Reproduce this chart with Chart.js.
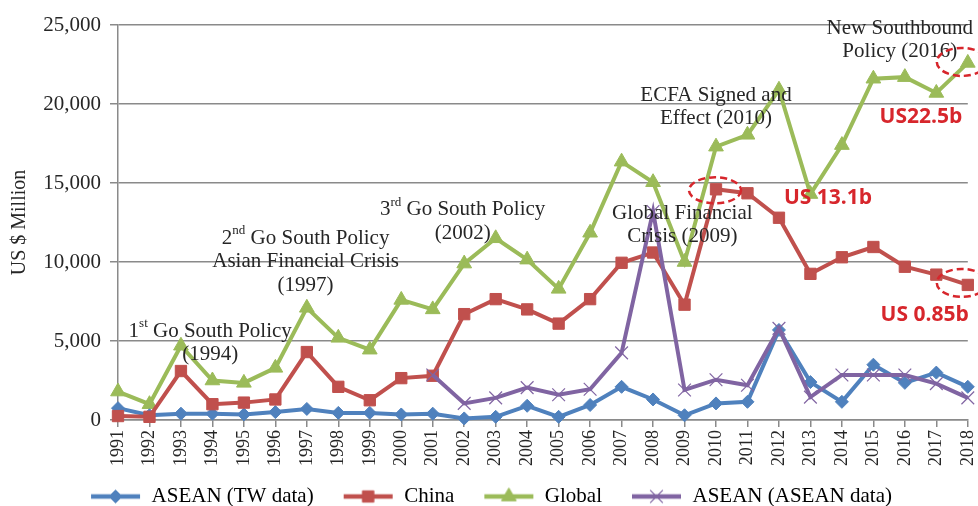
<!DOCTYPE html>
<html>
<head>
<meta charset="utf-8">
<title>Taiwan outward FDI</title>
<script src="https://cdn.jsdelivr.net/npm/chart.js@4.4.1/dist/chart.umd.min.js"></script>
<style>
  html, body { margin: 0; padding: 0; background: #fff; }
  #fdiChart { display: block; }
</style>
</head>
<body>
<canvas id="fdiChart" width="978" height="506"></canvas>
<script>
/* ---- data (US$ million) ---- */
var years = ['1991', '1992', '1993', '1994', '1995', '1996', '1997', '1998', '1999', '2000',
             '2001', '2002', '2003', '2004', '2005', '2006', '2007', '2008', '2009', '2010',
             '2011', '2012', '2013', '2014', '2015', '2016', '2017', '2018'];

var aseanTw = [750, 300, 400, 400, 350, 500, 700, 450, 450, 350,
               400, 100, 200, 900, 200, 950, 2100, 1300, 300, 1050,
               1150, 5700, 2400, 1150, 3500, 2350, 3000, 2100];

var china = [250, 200, 3100, 1000, 1100, 1300, 4300, 2100, 1250, 2650,
             2800, 6700, 7650, 7000, 6100, 7650, 9950, 10600, 7300, 14600,
             14350, 12800, 9250, 10300, 10950, 9700, 9200, 8550];

var globalFdi = [1800, 1000, 4700, 2500, 2350, 3300, 7100, 5200, 4450, 7600,
                 7000, 9900, 11500, 10150, 8300, 11850, 16350, 15050, 10000, 17300,
                 18050, 20900, 14300, 17400, 21600, 21700, 20700, 22600];

var aseanAsean = [null, null, null, null, null, null, null, null, null, null,
                  2850, 1050, 1400, 2050, 1600, 1950, 4250, 13200, 1900, 2550,
                  2200, 5800, 1450, 2850, 2850, 2850, 2300, 1400];

var yTicks = [0, 5000, 10000, 15000, 20000, 25000];

/* ---- look ---- */
var SERIF = '"Liberation Serif", "Times New Roman", serif';
var GRID = '#8a8a8a';
var INK = '#262626';
var RED_NOTE = '#d7262c';

var colBlue = '#4f81bd', colRed = '#c0504d', colGreen = '#9bbb59', colPurple = '#8064a2';

/* policy / event notes, placed in axis units (year index, value) */
var notes = [
  { x: 2.93,  y: 5630,  lines: ['1^st^ Go South Policy', '(1994)'] },
  { x: 5.96,  y: 11500, lines: ['2^nd^ Go South Policy', 'Asian Financial Crisis', '(1997)'] },
  { x: 10.95, y: 13300, lines: ['3^rd^ Go South Policy', '(2002)'] },
  { x: 17.93, y: 13100, lines: ['Global Financial', 'Crisis (2009)'] },
  { x: 19.0,  y: 20570, lines: ['ECFA Signed and', 'Effect (2010)'] },
  { x: 24.84, y: 24810, lines: ['New Southbound', 'Policy (2016)'] }
];

var redNotes = [
  { x: 25.51, y: 19180, text: 'US22.5b' },
  { x: 22.56, y: 14050, text: 'US 13.1b' },
  { x: 25.63, y: 6650,  text: 'US 0.85b' }
];

var rings = [
  { series: china,     index: 19, dx: -1, dy: 1,  rx: 26, ry: 13 },
  { series: china,     index: 27, dx: -6, dy: -2, rx: 25, ry: 14 },
  { series: globalFdi, index: 27, dx: -6, dy: -1, rx: 25, ry: 14 }
];

function drawRich(ctx, text, cx, cy, size) {
  var parts = text.split('^');
  var base = size + 'px ' + SERIF;
  var sup = Math.round(size * 0.62) + 'px ' + SERIF;
  var total = 0;
  parts.forEach(function (p, i) {
    ctx.font = (i % 2) ? sup : base;
    total += ctx.measureText(p).width;
  });
  var x = cx - total / 2;
  parts.forEach(function (p, i) {
    ctx.font = (i % 2) ? sup : base;
    ctx.fillText(p, x, (i % 2) ? cy - size * 0.36 : cy);
    x += ctx.measureText(p).width;
  });
}

var notesPlugin = {
  id: 'notes',
  afterDatasetsDraw: function (chart) {
    var ctx = chart.ctx, xs = chart.scales.x, ys = chart.scales.y;
    ctx.save();
    ctx.textAlign = 'left';
    ctx.textBaseline = 'middle';
    ctx.fillStyle = INK;
    notes.forEach(function (n) {
      var cx = xs.getPixelForValue(n.x), cy = ys.getPixelForValue(n.y);
      n.lines.forEach(function (line, i) {
        drawRich(ctx, line, cx, cy + i * 23.5, 21);
      });
    });

    ctx.textAlign = 'center';
    ctx.fillStyle = RED_NOTE;
    ctx.font = 'bold 21px "Open Sans", "DejaVu Sans", sans-serif';
    redNotes.forEach(function (n) {
      ctx.fillText(n.text, xs.getPixelForValue(n.x), ys.getPixelForValue(n.y));
    });

    ctx.strokeStyle = RED_NOTE;
    ctx.lineWidth = 2.5;
    ctx.setLineDash([7, 4]);
    rings.forEach(function (r) {
      var px = xs.getPixelForValue(r.index) + r.dx;
      var py = ys.getPixelForValue(r.series[r.index]) + r.dy;
      ctx.beginPath();
      ctx.ellipse(px, py, r.rx, r.ry, 0, 0, Math.PI * 2);
      ctx.stroke();
    });
    ctx.restore();
  }
};

/* legend swatch: a short line with the series marker in the middle,
   with blank room on the left so items sit further apart */
var SWATCH_W = 64, SWATCH_GAP = 14;
function swatch(ds) {
  var c = document.createElement('canvas');
  c.width = SWATCH_W; c.height = 20;
  var g = c.getContext('2d');
  var x0 = SWATCH_GAP, x1 = SWATCH_W - 1, mid = (x0 + x1) / 2;
  g.strokeStyle = ds.borderColor;
  g.lineWidth = 4.5;
  g.beginPath(); g.moveTo(x0, 10); g.lineTo(x1, 10); g.stroke();
  g.fillStyle = ds.pointBackgroundColor;
  g.strokeStyle = ds.pointBorderColor;
  g.lineWidth = ds.pointBorderWidth;
  Chart.helpers.drawPoint(g, {
    pointStyle: ds.pointStyle, radius: ds.pointRadius, rotation: 0,
    borderWidth: ds.pointBorderWidth
  }, mid, 10);
  return c;
}

function series(label, data, color, style, radius, order, bw) {
  return {
    label: label,
    data: data,
    borderColor: color,
    backgroundColor: color,
    borderWidth: 4,
    pointStyle: style,
    pointRadius: radius,
    pointHoverRadius: radius,
    pointBackgroundColor: color,
    pointBorderColor: color,
    pointBorderWidth: bw,
    tension: 0,
    spanGaps: false,
    clip: false,
    order: order
  };
}

document.addEventListener('DOMContentLoaded', function () {
  var ctx = document.getElementById('fdiChart').getContext('2d');

  new Chart(ctx, {
    type: 'line',
    data: {
      labels: years,
      datasets: [
        series('ASEAN (TW data)', aseanTw, colBlue, 'rectRot', 6.5, 2, 1),
        series('China', china, colRed, 'rect', 8, 1, 1),
        series('Global', globalFdi, colGreen, 'triangle', 8.5, 3, 1),
        series('ASEAN (ASEAN data)', aseanAsean, colPurple, 'crossRot', 9, 0, 1.2)
      ]
    },
    options: {
      responsive: false,
      animation: false,
      devicePixelRatio: 1,
      layout: { padding: { left: 0, top: 25, right: 9, bottom: 0 } },
      plugins: {
        tooltip: { enabled: false },
        legend: {
          position: 'bottom',
          maxHeight: 36,
          labels: {
            usePointStyle: true,
            pointStyleWidth: SWATCH_W,
            padding: 16,
            color: INK,
            font: { family: SERIF, size: 21 },
            generateLabels: function (chart) {
              return chart.data.datasets.map(function (ds, i) {
                return {
                  text: ds.label,
                  fillStyle: ds.borderColor,
                  strokeStyle: ds.borderColor,
                  lineWidth: 0,
                  pointStyle: swatch(ds),
                  hidden: false,
                  datasetIndex: i
                };
              });
            }
          }
        }
      },
      scales: {
        x: {
          afterFit: function (s) {
            s.height = 50;
            s.paddingLeft = 0;
            s.paddingRight = 0;
          },
          grid: { display: true, drawOnChartArea: false, tickLength: 7, color: GRID, lineWidth: 1.5 },
          border: { display: true, color: GRID, width: 1.5 },
          ticks: {
            autoSkip: false, minRotation: 90, maxRotation: 90, padding: 3,
            color: INK, font: { family: SERIF, size: 18 }
          }
        },
        y: {
          min: yTicks[0],
          max: yTicks[yTicks.length - 1],
          afterFit: function (s) { s.width = 118; },
          afterBuildTicks: function (s) {
            s.ticks = yTicks.map(function (v) { return { value: v }; });
          },
          grid: { color: GRID, lineWidth: 1.5, tickLength: 8 },
          border: { display: true, color: GRID, width: 1.5 },
          ticks: {
            padding: 9,
            color: INK,
            font: { family: SERIF, size: 21 },
            callback: function (v) { return v.toLocaleString('en-US'); }
          },
          title: {
            display: true,
            text: 'US $ Million',
            color: INK,
            padding: { top: 8, bottom: 0 },
            font: { family: SERIF, size: 20 }
          }
        }
      }
    },
    plugins: [notesPlugin]
  });
});
</script>
</body>
</html>
